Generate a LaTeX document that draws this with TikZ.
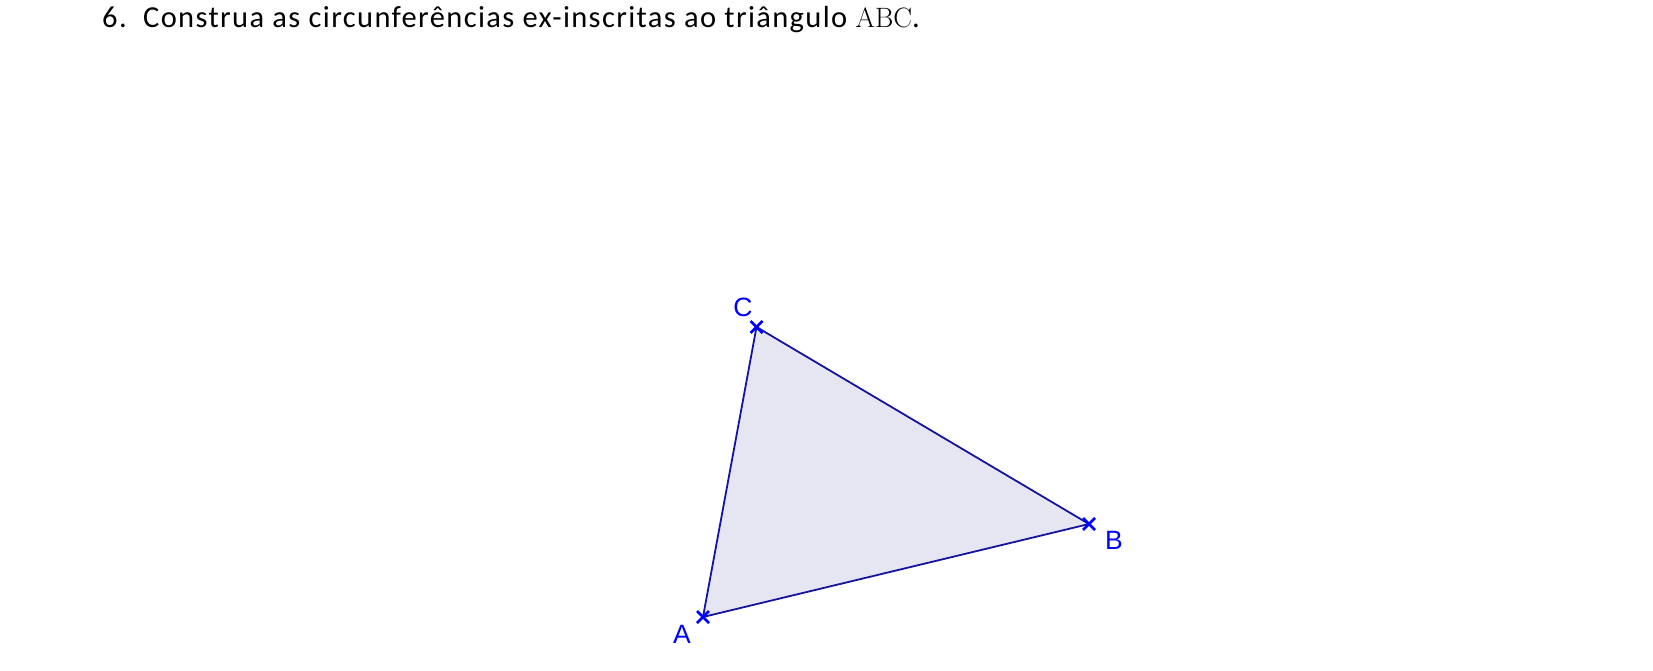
\documentclass[tikz,border=0pt]{standalone}
\usepackage{fontspec}
\usetikzlibrary{calc}
\setmainfont{Carlito}
\newfontfamily\titlefont[LetterSpace=4.5]{Carlito}
\newfontfamily\labelfont{Liberation Sans}
\newfontfamily\mathserif{Latin Modern Roman}
\definecolor{ptblue}{RGB}{0,0,255}
\definecolor{edgeblue}{RGB}{20,20,160}
\definecolor{fillblue}{RGB}{230,230,243}
\begin{document}
\begin{tikzpicture}[x=1pt,y=-1pt,
  ptlabel/.style={font=\labelfont\fontsize{26.5}{27}\selectfont, text=ptblue, inner sep=0pt},
  titletext/.style={anchor=base west, inner sep=0pt, font=\titlefont\fontsize{30.5}{34}\selectfont},
  edge/.style={draw=edgeblue, line width=1.8pt},
  crossmark/.style={draw=ptblue, line width=2.6pt}]
\useasboundingbox (0,0) rectangle (1653,670);
\node[titletext] (num) at (102,27) {6.};
\node[titletext] (title) at (143,27)
  {Construa as circunferências ex-inscritas ao triângulo {\mathserif\fontsize{28}{30}\selectfont ABC}.};
\coordinate (A) at (703,617);
\coordinate (B) at (1089,524);
\coordinate (C) at (756.5,327);
\fill[fillblue] (A) -- (B) -- (C) -- cycle;
\draw[edge] (A) -- (B);
\draw[edge] (B) -- (C);
\draw[edge] (C) -- (A);
\foreach \p in {A,B,C}{
  \draw[crossmark] ($(\p)+(-6,-6)$) -- ($(\p)+(6,6)$);
  \draw[crossmark] ($(\p)+(-6,6)$) -- ($(\p)+(6,-6)$);
}
\node[ptlabel] (lA) at (682,634) {A};
\node[ptlabel] (lB) at (1114,540) {B};
\node[ptlabel] (lC) at (743,307) {C};
\end{tikzpicture}
\end{document}
